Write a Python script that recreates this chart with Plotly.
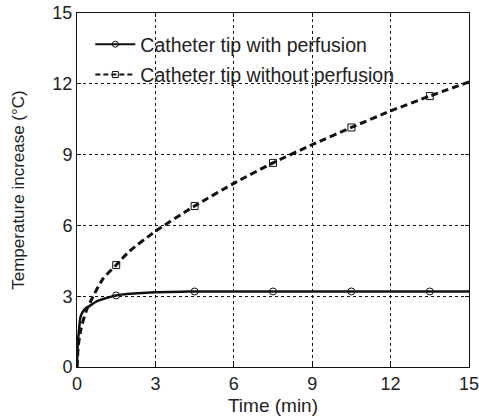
import plotly.graph_objects as go

t_with = [0, 0.03, 0.08, 0.13, 0.2, 0.3, 0.5, 0.75, 1.0, 1.5, 2.0, 2.5, 3.0, 4.0, 4.5, 6, 7.5, 9, 10.5, 12, 13.5, 15]
y_with = [0, 1.0, 1.6, 2.1, 2.3, 2.45, 2.6, 2.78, 2.88, 3.03, 3.1, 3.14, 3.17, 3.19, 3.2, 3.2, 3.2, 3.2, 3.2, 3.2, 3.2, 3.2]

t_without = [0, 0.05, 0.15, 0.36, 0.62, 1.0, 1.5, 2.0, 3.0, 4.5, 6.0, 7.5, 9.0, 10.5, 12.0, 13.5, 15.0]
y_without = [0, 0.9, 1.6, 2.4, 3.0, 3.75, 4.32, 4.9, 5.75, 6.82, 7.78, 8.65, 9.42, 10.15, 10.85, 11.48, 12.08]

mk_t = [1.5, 4.5, 7.5, 10.5, 13.5]
mk_with = [3.03, 3.2, 3.2, 3.2, 3.2]
mk_without = [4.32, 6.82, 8.65, 10.15, 11.48]

name_with = "Catheter tip with perfusion"
name_without = "Catheter tip without perfusion"

x_ticks = [0, 3, 6, 9, 12, 15]
y_ticks = [0, 3, 6, 9, 12, 15]

ink = "#111111"
fig = go.Figure()

fig.add_trace(go.Scatter(x=t_with, y=y_with, mode="lines", line=dict(color=ink, width=2.5, shape="spline", smoothing=0.6),
                         showlegend=False, legendgroup="a"))
fig.add_trace(go.Scatter(x=mk_t, y=mk_with, mode="markers",
                         marker=dict(symbol="circle-open", size=7, color=ink, line=dict(width=1)),
                         showlegend=False, legendgroup="a"))
fig.add_trace(go.Scatter(x=t_without, y=y_without, mode="lines", line=dict(color=ink, width=3, dash="7px,4px", shape="spline", smoothing=0.6),
                         showlegend=False, legendgroup="b"))
fig.add_trace(go.Scatter(x=mk_t, y=mk_without, mode="markers",
                         marker=dict(symbol="square-open", size=7, color=ink, line=dict(width=1)),
                         showlegend=False, legendgroup="b"))
# legend entries
fig.add_trace(go.Scatter(x=[None], y=[None], mode="lines+markers", name=name_with, legendgroup="a",
                         line=dict(color=ink, width=2),
                         marker=dict(symbol="circle-open", size=6, color=ink, line=dict(width=1))))
fig.add_trace(go.Scatter(x=[None], y=[None], mode="lines+markers", name=name_without, legendgroup="b",
                         line=dict(color=ink, width=2, dash="5px,3px"),
                         marker=dict(symbol="square-open", size=6, color=ink, line=dict(width=1))))

axis_common = dict(
    showgrid=True, gridcolor=ink, gridwidth=1, griddash="dot",
    showline=True, linecolor=ink, linewidth=1, mirror="ticks",
    ticks="inside", ticklen=4, tickcolor=ink, zeroline=False,
    tickfont=dict(size=18, color="#222222"), automargin=False,
    ticklabeloverflow="allow",
)

fig.update_layout(
    width=479, height=419,
    margin=dict(l=77, r=10, t=13, b=52),
    paper_bgcolor="white", plot_bgcolor="white",
    font=dict(family="Liberation Sans, Arial, sans-serif", color="#222222"),
    xaxis=dict(range=[0, 15], tickvals=x_ticks,
               title=dict(text="Time (min)", font=dict(size=19), standoff=6), **axis_common),
    yaxis=dict(range=[0, 15], tickvals=y_ticks,
               title=dict(text="Temperature increase (°C)", font=dict(size=17), standoff=23), **axis_common),
    legend=dict(x=0.034, y=0.966, xanchor="left", yanchor="top", bgcolor="rgba(255,255,255,0)",
                font=dict(size=19.5), itemwidth=40, tracegroupgap=2),
)

fig.write_html("out.html")
